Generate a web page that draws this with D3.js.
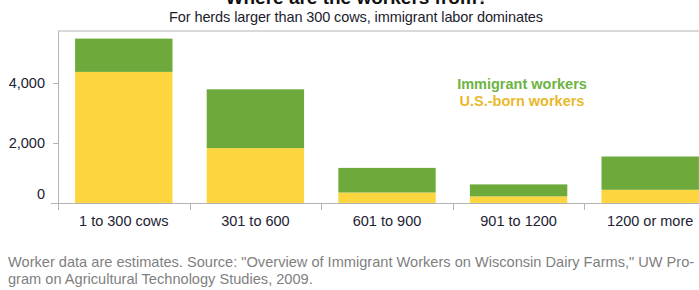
<!DOCTYPE html>
<html lang="en">
<head>
    <meta charset="UTF-8">
    <title>Where are the workers from?</title>
    <script src="https://cdn.jsdelivr.net/npm/d3@7/dist/d3.min.js"></script>
</head>
<style>
    body {
        margin: 0;
        background: #fff;
    }

    svg text {
        font-family: "Liberation Sans", Arial, sans-serif;
    }

    .axis path, .axis line {
        stroke: #b4b4b4;
    }

    .axis text {
        font-size: 14.5px;
        fill: #222233;
    }
</style>
<body>
<script>
    var width = 699;
    var height = 290;

    var categories = ['1 to 300 cows', '301 to 600', '601 to 900', '901 to 1200', '1200 or more'];
    var usBorn = [4370, 1830, 350, 220, 440];
    var immigrant = [1110, 1960, 820, 400, 1110];
    var yTicks = [0, 2000, 4000];
    var seriesNames = ['Immigrant workers', 'U.S.-born workers'];

    var colors = {immigrant: '#6eaa3b', usBorn: '#fdd53f'};
    var textColors = {immigrant: '#6db43f', usBorn: '#e9b92c'};

    var padding = {left: 58, top: 31, bottom: 203, right: 716};

    var svg = d3.select('body')
        .append('svg')
        .attr('width', width)
        .attr('height', height)

    var xScale = d3.scaleBand()
        .domain(categories)
        .range([padding.left, padding.right])
        .paddingInner(0.26)
        .paddingOuter(0.13)

    var yScale = d3.scaleLinear()
        .domain([0, 1000])
        .range([padding.bottom, padding.bottom - 30])

    // stacked data
    var stack = d3.stack().keys(['usBorn', 'immigrant'])
    var rows = categories.map(function (c, i) {
        return {cat: c, usBorn: usBorn[i], immigrant: immigrant[i]}
    })
    var layers = stack(rows)

    // frame: top border
    svg.append('line')
        .attr('x1', padding.left)
        .attr('x2', width)
        .attr('y1', padding.top)
        .attr('y2', padding.top)
        .attr('stroke', '#b4b4b4')

    svg.selectAll('.layer')
        .data(layers)
        .enter()
        .append('g')
        .attr('class', 'layer')
        .attr('fill', function (d) {
            return colors[d.key]
        })
        .selectAll('rect')
        .data(function (d) {
            return d
        })
        .enter()
        .append('rect')
        .attr('x', function (d) {
            return xScale(d.data.cat)
        })
        .attr('y', function (d) {
            return yScale(d[1])
        })
        .attr('width', xScale.bandwidth())
        .attr('height', function (d) {
            return yScale(d[0]) - yScale(d[1])
        })

    // x axis: ticks sit between the bands
    var xAxis = d3.axisBottom(xScale).tickSize(0).tickPadding(13)
    var gx = svg.append('g')
        .attr('class', 'axis')
        .attr('transform', 'translate(0,' + padding.bottom + ')')
        .call(xAxis)
    gx.select('.domain').attr('d', 'M' + (padding.left - 7) + ',0.5H' + width)
    gx.selectAll('.sep')
        .data(categories)
        .enter()
        .append('line')
        .attr('class', 'sep')
        .attr('x1', function (d) {
            return Math.round(xScale(d) - xScale.step() * 0.13) + 0.5
        })
        .attr('x2', function (d) {
            return Math.round(xScale(d) - xScale.step() * 0.13) + 0.5
        })
        .attr('y1', 0)
        .attr('y2', 7)

    // y axis
    var yAxis = d3.axisLeft(yScale)
        .tickValues(yTicks)
        .tickSize(5)
        .tickPadding(8)
        .tickFormat(d3.format(','))
    var gy = svg.append('g')
        .attr('class', 'axis')
        .attr('transform', 'translate(' + padding.left + ',0)')
        .call(yAxis)
    gy.select('.domain').attr('d', 'M0.5,' + padding.top + 'V' + padding.bottom)
    gy.selectAll('.tick')
        .filter(function (d) {
            return d === 0
        })
        .select('text')
        .attr('dy', '-0.3em')
    gy.selectAll('.tick')
        .filter(function (d) {
            return d === 0
        })
        .select('line')
        .remove()

    // legend
    svg.selectAll('.legend')
        .data(seriesNames)
        .enter()
        .append('text')
        .attr('class', 'legend')
        .attr('x', 522)
        .attr('y', function (d, i) {
            return 89 + i * 17
        })
        .attr('text-anchor', 'middle')
        .style('font-size', '14.5px')
        .style('font-weight', 'bold')
        .attr('fill', function (d, i) {
            return i === 0 ? textColors.immigrant : textColors.usBorn
        })
        .text(function (d) {
            return d
        })

    // titles
    svg.append('text')
        .attr('x', 357)
        .attr('y', 3.5)
        .attr('text-anchor', 'middle')
        .style('font-size', '19px')
        .style('font-weight', 'bold')
        .attr('fill', '#111')
        .text('Where are the workers from?')

    svg.append('text')
        .attr('x', 356)
        .attr('y', 22)
        .attr('text-anchor', 'middle')
        .style('font-size', '14.5px')
        .style('letter-spacing', '-0.1px')
        .attr('fill', '#1c1c2c')
        .text('For herds larger than 300 cows, immigrant labor dominates')

    // source note
    var notes = ['Worker data are estimates. Source: "Overview of Immigrant Workers on Wisconsin Dairy Farms," UW Pro-',
        'gram on Agricultural Technology Studies, 2009.']
    svg.selectAll('.note')
        .data(notes)
        .enter()
        .append('text')
        .attr('class', 'note')
        .attr('x', 8)
        .attr('y', function (d, i) {
            return 267 + i * 16.5
        })
        .style('font-size', '14.6px')
        .attr('fill', '#7f7f7f')
        .text(function (d) {
            return d
        })
</script>

</body>
</html>
